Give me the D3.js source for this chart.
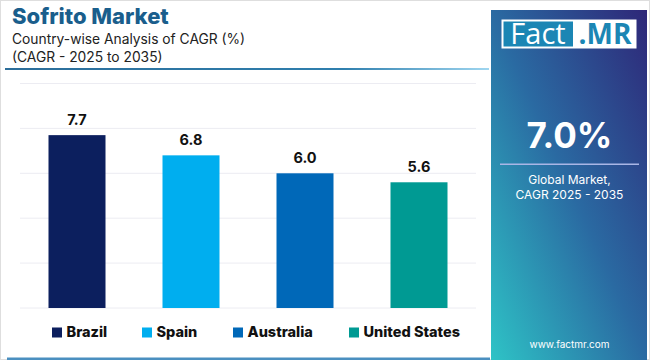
<!DOCTYPE html>
<html><head><meta charset="utf-8">
<script src="https://cdn.jsdelivr.net/npm/d3@7/dist/d3.min.js"></script>
<style>html,body{margin:0;padding:0;background:#fff;}svg{display:block;font-family:Inter,"Open Sans",sans-serif;}</style>
</head><body><svg id="c" width="650" height="360"></svg>
<script>
const categories = ["Brazil", "Spain", "Australia", "United States"];
const values = [7.7, 6.8, 6.0, 5.6];
const colors = ["#0c1f5e", "#00aeef", "#0068b8", "#009a93"];
const yTicks = [0, 2, 4, 6, 8, 10];
const title = "Sofrito Market";
const subtitle1 = "Country-wise Analysis of CAGR (%)";
const subtitle2 = "(CAGR - 2025 to 2035)";
const globalValue = "7.0%";
const globalLabel = ["Global Market,", "CAGR 2025 - 2035"];

const svg = d3.select("#c");
const defs = svg.append("defs");

// frame
svg.append("rect").attr("x",0.5).attr("y",0.5).attr("width",649).attr("height",359)
  .attr("fill","#fff").attr("stroke","#dedede");

// title
svg.append("text").attr("x",12).attr("y",24).attr("fill","#1a5e8c")
  .attr("font-size",22).attr("font-weight",800).text(title);
svg.append("text").attr("x",12).attr("y",44).attr("fill","#222")
  .attr("font-size",13.8).text(subtitle1);
svg.append("text").attr("x",12).attr("y",62).attr("fill","#222")
  .attr("font-size",13.8).text(subtitle2);

const lg = defs.append("linearGradient").attr("id","sep");
lg.append("stop").attr("offset","0%").attr("stop-color","#2c6d99");
lg.append("stop").attr("offset","70%").attr("stop-color","#2f7fae");
lg.append("stop").attr("offset","100%").attr("stop-color","#9fd6f0");
svg.append("rect").attr("x",5).attr("y",68).attr("width",484).attr("height",2).attr("fill","url(#sep)");
svg.append("rect").attr("x",7).attr("y",357.5).attr("width",483).attr("height",2.5).attr("fill","#4a8fc0");

// chart
const x = d3.scaleBand().domain(categories).range([20,476]).paddingInner(0.5).paddingOuter(0.25);
const y = d3.scaleLinear().domain([0,10]).range([308,83.5]);

const grid = svg.append("g");
grid.selectAll("line").data(yTicks).join("line")
  .attr("x1",20).attr("x2",476).attr("y1",d=>y(d)).attr("y2",d=>y(d))
  .attr("stroke","#ececf2").attr("stroke-width",1);

svg.append("g").selectAll("rect").data(values).join("rect")
  .attr("x",(d,i)=>x(categories[i])).attr("width",x.bandwidth())
  .attr("y",d=>y(d)).attr("height",d=>y(0)-y(d)).attr("fill",(d,i)=>colors[i]);

svg.append("g").selectAll("text").data(values).join("text")
  .attr("x",(d,i)=>x(categories[i])+x.bandwidth()/2).attr("y",d=>y(d)-10)
  .attr("text-anchor","middle").attr("font-size",14.5).attr("font-weight",700).attr("fill","#111")
  .text(d=>d.toFixed(1));

// legend
const legX = [52, 142, 233, 349];
const leg = svg.append("g").selectAll("g").data(categories).join("g")
  .attr("transform",(d,i)=>`translate(${legX[i]},327.5)`);
leg.append("rect").attr("width",10).attr("height",10).attr("fill",(d,i)=>colors[i]);
leg.append("text").attr("x",14.5).attr("y",9.8).attr("font-size",14.5).attr("font-weight",800)
  .attr("fill","#111").text(d=>d);

// right panel
const rg = defs.append("linearGradient").attr("id","panel")
  .attr("x1","0%").attr("y1","100%").attr("x2","100%").attr("y2","0%");
rg.append("stop").attr("offset","0%").attr("stop-color","#2ec3c6");
rg.append("stop").attr("offset","50%").attr("stop-color","#2a6aa2");
rg.append("stop").attr("offset","100%").attr("stop-color","#2e2778");
svg.append("rect").attr("x",491).attr("y",10).attr("width",156).attr("height",350).attr("fill","url(#panel)");

// logo
svg.append("rect").attr("x",501.5).attr("y",19.5).attr("width",135).attr("height",29).attr("fill","#fff");
svg.append("rect").attr("x",503.5).attr("y",21.5).attr("width",69.5).attr("height",25).attr("fill","#1b86b4");
svg.append("text").attr("x",538).attr("y",44).attr("text-anchor","middle").attr("fill","#fff")
  .attr("font-size",29).attr("font-family","'Open Sans',sans-serif").text("Fact");
svg.append("text").attr("x",605).attr("y",44).attr("text-anchor","middle").attr("fill","#1b86b4")
  .attr("font-size",28).attr("font-weight",700).attr("font-family","'Open Sans',sans-serif").text(".MR");

svg.append("text").attr("x",569.5).attr("y",148).attr("text-anchor","middle").attr("fill","#fff")
  .attr("font-size",35).attr("font-weight",700).text(globalValue);
svg.append("rect").attr("x",500).attr("y",163.5).attr("width",139).attr("height",1.5).attr("fill","#a9b6e6");
svg.append("g").selectAll("text").data(globalLabel).join("text")
  .attr("x",569.5).attr("y",(d,i)=>183.5+i*15).attr("text-anchor","middle").attr("fill","#fff")
  .attr("font-size",12).text(d=>d);
svg.append("text").attr("x",569.5).attr("y",347.5).attr("text-anchor","middle").attr("fill","#fff")
  .attr("font-size",10).text("www.factmr.com");
</script></body></html>
